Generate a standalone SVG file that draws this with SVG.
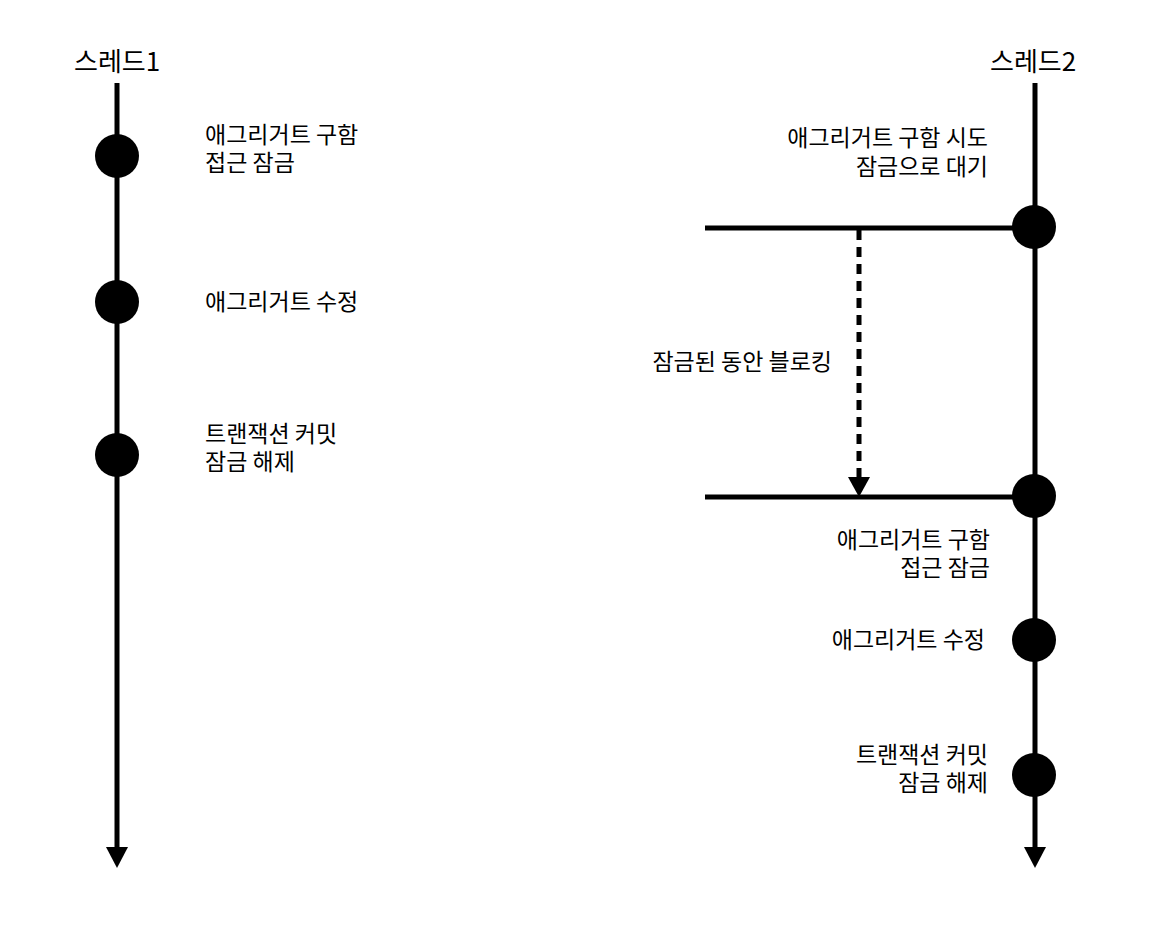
<svg xmlns="http://www.w3.org/2000/svg" width="1150" height="944" viewBox="0 0 1150 944">
<style>
text{font-family:"Noto Sans CJK KR","Noto Sans",sans-serif;font-size:23px;fill:#000}
.t{font-size:26px}
.r{text-anchor:end}
.ln{stroke:#000;stroke-width:5;fill:none}
.dot{fill:#000}
.ah{fill:#000}
</style>
<rect width="1150" height="944" fill="#fff"/>
<g id="connectors">
<line class="ln" x1="117" y1="83" x2="117" y2="850"/>
<path class="ah" d="M106,847 L128,847 L117,868 Z"/>
<line class="ln" x1="1035" y1="83" x2="1035" y2="850"/>
<path class="ah" d="M1024,847 L1046,847 L1035,868 Z"/>
<line class="ln" x1="705" y1="228" x2="1035" y2="228"/>
<line class="ln" x1="705" y1="497" x2="1035" y2="497"/>
<line class="ln" x1="859" y1="230" x2="859" y2="480" stroke-dasharray="10 7"/>
<path class="ah" d="M848,477 L870,477 L859,497 Z"/>
</g>
<g id="thread1">
<text class="t" x="74" y="71">스레드1</text>
</g>
<g id="thread2">
<text class="t" x="990" y="71">스레드2</text>
</g>
<g id="t1-lock">
<circle class="dot" cx="117" cy="156" r="22"/>
<text x="205" y="143">애그리거트 구함<tspan x="205" dy="28">접근 잠금</tspan></text>
</g>
<g id="t1-modify">
<circle class="dot" cx="117" cy="302" r="22"/>
<text x="205" y="310">애그리거트 수정</text>
</g>
<g id="t1-commit">
<circle class="dot" cx="117" cy="455" r="22"/>
<text x="205" y="442">트랜잭션 커밋<tspan x="205" dy="28">잠금 해제</tspan></text>
</g>
<g id="t2-try">
<circle class="dot" cx="1034" cy="227" r="22"/>
<text class="r" x="988" y="146">애그리거트 구함 시도<tspan x="988" dy="29">잠금으로 대기</tspan></text>
</g>
<g id="blocking">
<text class="r" x="832" y="370">잠금된 동안 블로킹</text>
</g>
<g id="t2-lock">
<circle class="dot" cx="1034" cy="496" r="22"/>
<text class="r" x="990" y="548">애그리거트 구함<tspan x="990" dy="28">접근 잠금</tspan></text>
</g>
<g id="t2-modify">
<circle class="dot" cx="1034" cy="640" r="22"/>
<text class="r" x="985" y="648">애그리거트 수정</text>
</g>
<g id="t2-commit">
<circle class="dot" cx="1034" cy="775" r="22"/>
<text class="r" x="988" y="763">트랜잭션 커밋<tspan x="988" dy="28">잠금 해제</tspan></text>
</g>
</svg>
